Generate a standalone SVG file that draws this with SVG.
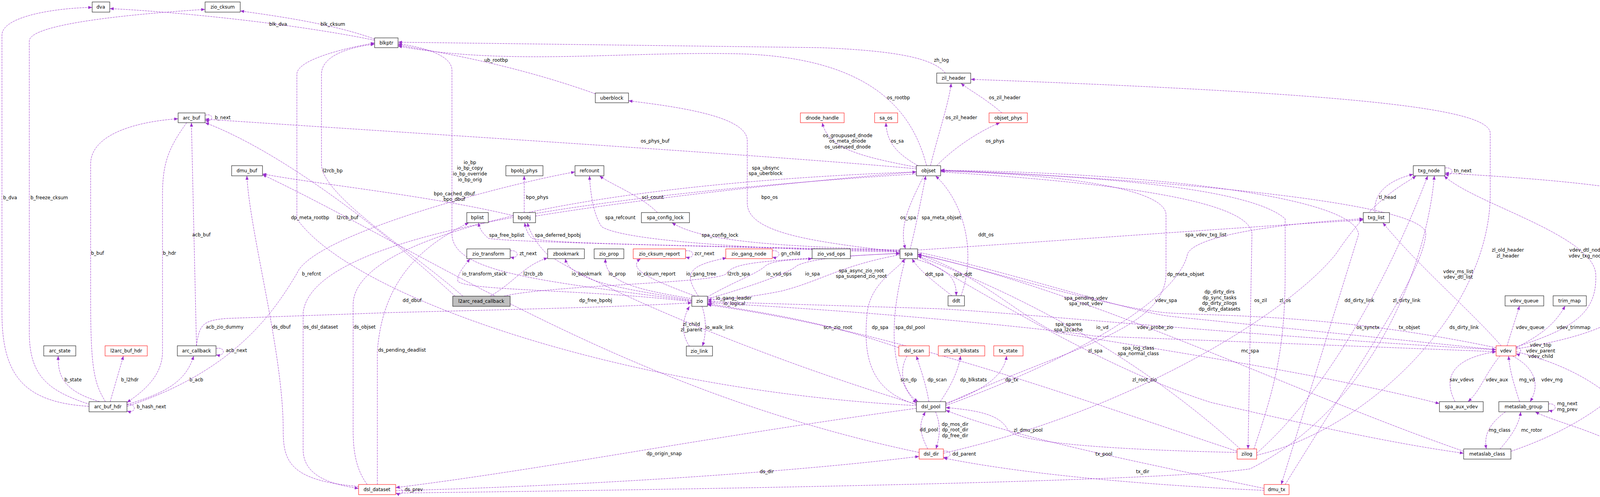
<svg xmlns="http://www.w3.org/2000/svg" width="4451" height="1272" viewBox="0 0 4451 1272">
<style>
.n rect{fill:#fff;stroke:#000;stroke-width:1}
.n.r rect{stroke:#FF0000}
.n.g rect{fill:#bfbfbf}
.n text{font-family:"DejaVu Sans",Verdana,sans-serif;font-size:12px;text-anchor:middle;fill:#000}
#edges path{fill:none;stroke:#9A32CD;stroke-width:1;stroke-dasharray:5,2;marker-end:url(#a)}
#edges text{font-family:"DejaVu Sans",Verdana,sans-serif;font-size:12px;fill:#000}
#edges text.c{text-anchor:middle}
</style>
<defs>
<marker id="a" markerUnits="userSpaceOnUse" markerWidth="11" markerHeight="8" refX="10" refY="4" orient="auto"><path d="M0,0 L10,4 L0,8 z" fill="#9A32CD"/></marker>
</defs>
<rect width="4451" height="1272" fill="#fff"/>
<g id="edges">
<path d="M228,1040 C60,1030 5,960 5,800 L5,90 C5,40 150,20 236,19"/><text x="8" y="510">b_dva</text>
<path d="M230,1035 C120,1000 75,960 75,850 L75,105 C75,60 350,35 525,24"/><text x="78" y="510">b_freeze_cksum</text>
<path d="M959,103 C750,60 450,30 281,22"/><text class="c" x="712" y="66">blk_dva</text>
<path d="M959,100 C850,60 700,40 615,28"/><text class="c" x="852" y="66">blk_cksum</text>
<path d="M270,1028 C240,980 232,940 232,760 L232,420 C232,340 360,310 456,304"/><text x="233" y="652">b_buf</text>
<path d="M478,314 C430,380 416,420 416,500 L416,900 C416,960 370,1000 325,1030"/><text x="417" y="652">b_hdr</text>
<path d="M525,295 C548,288 548,314 525,308"/><text x="550" y="305">b_next</text>
<path d="M503,885 L490,314"/><text x="492" y="605">acb_buf</text>
<path d="M255,1028 C160,1000 148,960 149,911"/><text x="165" y="976">b_state</text>
<path d="M282,1028 L316,911"/><text x="310" y="976">b_l2hdr</text>
<path d="M325,1035 C450,1000 480,960 496,911"/><text x="485" y="976">b_acb</text>
<path d="M553,892 C578,886 578,914 553,908"/><text x="578" y="901">acb_next</text>
<path d="M325,1036 C350,1030 350,1060 325,1052"/><text x="350" y="1045">b_hash_next</text>
<path d="M503,885 C510,830 520,820 580,815 L1000,800 C1400,790 1600,785 1771,775"/><text x="527" y="841">acb_zio_dummy</text>
<path d="M1185,758 C1050,640 823,500 823,420 L823,190 C823,140 900,120 959,113"/><text x="826" y="441">l2rcb_bp</text>
<path d="M1165,758 C950,560 700,380 525,314"/><text x="862" y="561">l2rcb_buf</text>
<path d="M2346,1038 C1600,1000 900,760 760,560 L760,190 C760,150 900,120 959,110"/><text x="745" y="561">dp_meta_rootbp</text>
<path d="M918,1245 C740,1230 725,1180 725,1100 C725,900 640,600 632,450"/><text x="697" y="841">ds_dbuf</text>
<path d="M940,1240 C910,1200 904,1150 904,1100 L904,780 C904,600 1500,470 2346,440"/><text x="905" y="841">ds_objset</text>
<path d="M2346,445 C1500,500 800,600 776,800 L776,1150 C776,1220 850,1240 918,1250"/><text x="777" y="841">os_dsl_dataset</text>
<path d="M1013,1248 C1036,1246 1036,1272 1013,1262"/><text x="1036" y="1257">ds_prev</text>
<path d="M966,1240 L966,900 C980,700 1100,620 1200,570"/><text x="968" y="900">ds_pending_deadlist</text>
<path d="M2353,1158 C1600,1000 1100,650 672,447"/><text class="c" x="1055" y="773">dd_dbuf</text>
<path d="M325,1040 C600,950 700,800 760,700 C800,600 1300,470 1472,440"/><text x="773" y="705">b_refcnt</text>
<path d="M1314,552 C1100,500 800,470 672,445"/><text class="c" x="1163" y="500">bpo_cached_dbuf</text><text class="c" x="1163" y="514">bpo_dbuf</text>
<path d="M1771,770 C1400,720 1160,700 1157,600 L1157,180 C1157,140 1080,120 1019,112"/><text class="c" x="1203" y="420">io_bp</text><text class="c" x="1203" y="434">io_bp_copy</text><text class="c" x="1203" y="449">io_bp_override</text><text class="c" x="1203" y="464">io_bp_orig</text>
<path d="M1524,240 C1300,160 1100,130 1019,115"/><text class="c" x="1270" y="158">ub_rootbp</text>
<path d="M2372,424 C2340,300 2250,150 1900,138 C1600,130 1300,170 1019,118"/><text class="c" x="2300" y="254">os_rootbp</text>
<path d="M2420,187 C2390,150 2300,130 2100,122 L1019,108"/><text class="c" x="2410" y="158">zh_log</text>
<path d="M2346,432 C2000,400 1200,350 525,305"/><text class="c" x="1677" y="365">os_phys_buf</text>
<path d="M2346,428 C2200,400 2120,380 2105,314"/><text class="c" x="2170" y="351">os_groupused_dnode</text><text class="c" x="2170" y="365">os_meta_dnode</text><text class="c" x="2170" y="380">os_userused_dnode</text>
<path d="M2350,424 C2290,390 2270,360 2268,314"/><text class="c" x="2297" y="365">os_sa</text>
<path d="M2382,424 C2400,350 2430,260 2435,213"/><text class="c" x="2461" y="305">os_zil_header</text>
<path d="M2565,289 C2520,250 2480,230 2460,213"/><text class="c" x="2572" y="254">os_zil_header</text>
<path d="M2398,424 C2450,370 2520,330 2560,314"/><text class="c" x="2547" y="365">os_phys</text>
<path d="M2304,645 C2100,620 1913,600 1913,520 L1913,360 C1913,300 1750,275 1609,258"/><text class="c" x="1960" y="434">spa_ubsync</text><text class="c" x="1960" y="448">spa_uberblock</text>
<path d="M1342,544 L1342,450"/><text class="c" x="1375" y="509">bpo_phys</text>
<path d="M1371,553 C1700,500 2100,460 2346,440"/><text class="c" x="1970" y="509">bpo_os</text>
<path d="M1683,544 C1640,500 1560,470 1535,450"/><text class="c" x="1671" y="509">scl_count</text>
<path d="M2304,645 C2000,640 1600,620 1540,580 C1520,550 1512,500 1509,450"/><text class="c" x="1588" y="561">spa_refcount</text>
<path d="M2304,643 C1800,630 1300,620 1250,610 C1240,600 1228,590 1225,570"/><text class="c" x="1297" y="606">spa_free_bplist</text>
<path d="M2304,641 C1800,628 1400,625 1362,610 C1350,600 1345,580 1343,570"/><text class="c" x="1428" y="606">spa_deferred_bpobj</text>
<path d="M2304,640 C2000,630 1800,620 1720,570"/><text class="c" x="1843" y="606">spa_config_lock</text>
<path d="M2365,450 C2330,520 2300,580 2318,637"/><text class="c" x="2325" y="561">os_spa</text>
<path d="M2330,637 C2345,580 2360,500 2370,450"/><text class="c" x="2410" y="561">spa_meta_objset</text>
<path d="M2460,757 C2500,650 2470,520 2395,450"/><text class="c" x="2524" y="605">ddt_os</text>
<path d="M2349,640 C2800,610 3200,580 3490,563"/><text class="c" x="3087" y="605">spa_vdev_txg_list</text>
<path d="M1306,642 C1330,638 1330,664 1306,658"/><text x="1330" y="653">zt_next</text>
<path d="M1771,772 C1500,740 1200,745 1172,720 C1170,700 1190,680 1203,662"/><text class="c" x="1240" y="705">io_transform_stack</text>
<path d="M1255,758 C1320,720 1340,680 1402,660"/><text class="c" x="1365" y="705">l2rcb_zb</text>
<path d="M1771,768 C1600,740 1460,720 1447,662"/><text class="c" x="1502" y="705">io_bookmark</text>
<path d="M1775,765 C1620,740 1548,720 1550,662"/><text class="c" x="1580" y="705">io_prop</text>
<path d="M1780,758 C1680,720 1600,690 1640,662"/><text class="c" x="1680" y="705">io_cksum_report</text>
<path d="M1755,642 C1780,638 1780,664 1755,658"/><text x="1778" y="653">zcr_next</text>
<path d="M1788,758 C1750,700 1760,680 1860,660"/><text class="c" x="1795" y="705">io_gang_tree</text>
<path d="M1977,642 C2000,638 2000,664 1977,658"/><text x="1999" y="653">gn_child</text>
<path d="M1290,758 C1400,730 1840,725 1860,700 C1880,670 1950,667 2304,648"/><text class="c" x="1891" y="705">l2rcb_spa</text>
<path d="M1811,760 C1880,720 1940,700 1960,680 C1980,665 2040,665 2079,662"/><text class="c" x="1994" y="705">io_vsd_ops</text>
<path d="M1811,765 C1900,740 2020,700 2040,680 C2080,660 2200,652 2304,649"/><text class="c" x="2080" y="705">io_spa</text>
<path d="M2304,652 C2150,680 2100,720 2000,745 C1900,765 1850,765 1811,768"/><text class="c" x="2205" y="697">spa_async_zio_root</text><text class="c" x="2205" y="711">spa_suspend_zio_root</text>
<path d="M1811,762 C1834,758 1834,782 1811,778"/><text x="1833" y="767">io_gang_leader</text><text x="1852" y="781">io_logical</text>
<path d="M1765,886 C1740,850 1750,810 1765,784"/><text class="c" x="1770" y="834">zl_child</text><text class="c" x="1770" y="848">zl_parent</text>
<path d="M1797,784 C1810,820 1807,860 1798,886"/><text x="1806" y="842">io_walk_link</text>
<path d="M2346,1035 C1900,900 1500,720 1400,650 C1370,620 1355,590 1350,570"/><text class="c" x="1525" y="773">dp_free_bpobj</text>
<path d="M2301,890 C2100,820 1950,800 1811,777"/><text class="c" x="2145" y="842">scn_zio_root</text>
<path d="M2346,1045 C1800,1120 1400,1200 1013,1248"/><text class="c" x="1700" y="1165">dp_origin_snap</text>
<path d="M1013,1256 C1600,1240 2100,1200 2353,1168"/><text class="c" x="1963" y="1211">ds_dir</text>
<path d="M2340,662 C2440,690 2448,720 2448,757"/><text class="c" x="2465" y="706">spa_ddt</text>
<path d="M2437,757 C2390,720 2350,690 2335,662"/><text class="c" x="2392" y="706">ddt_spa</text>
<path d="M2346,1035 C2220,1000 2210,900 2220,800 C2230,720 2300,690 2316,662"/><text class="c" x="2253" y="842">dp_spa</text>
<path d="M2318,662 C2280,800 2270,950 2346,1032"/><text class="c" x="2330" y="842">spa_dsl_pool</text>
<path d="M2322,911 C2300,950 2310,1000 2350,1028"/><text class="c" x="2326" y="976">scn_dp</text>
<path d="M2378,1028 C2370,980 2355,940 2346,911"/><text class="c" x="2399" y="976">dp_scan</text>
<path d="M2407,1028 C2440,980 2455,940 2459,911"/><text class="c" x="2492" y="976">dp_blkstats</text>
<path d="M2421,1032 C2520,1000 2570,960 2577,911"/><text class="c" x="2590" y="976">dp_tx</text>
<path d="M2375,1149 C2350,1100 2355,1080 2369,1054"/><text class="c" x="2378" y="1104">dd_pool</text>
<path d="M2395,1054 C2410,1090 2405,1120 2396,1149"/><text class="c" x="2445" y="1090">dp_mos_dir</text><text class="c" x="2445" y="1104">dp_root_dir</text><text class="c" x="2445" y="1119">dp_free_dir</text>
<path d="M2415,1155 C2438,1150 2438,1176 2415,1170"/><text x="2438" y="1166">dd_parent</text>
<path d="M3167,1158 C2800,1150 2600,1130 2580,1100 C2560,1060 2500,1050 2421,1043"/><text class="c" x="2632" y="1105">zl_dmu_pool</text>
<path d="M3236,1250 C2900,1180 2600,1120 2421,1050"/><text class="c" x="2826" y="1166">tx_pool</text>
<path d="M3236,1255 C2900,1240 2600,1210 2415,1172"/><text class="c" x="2925" y="1211">tx_dir</text>
<path d="M2349,645 C2600,700 2900,800 3000,810 L3830,895"/><text class="c" x="2780" y="767">spa_pending_vdev</text><text class="c" x="2780" y="781">spa_root_vdev</text>
<path d="M3830,890 C3400,800 3100,810 2980,800 C2800,780 2500,680 2349,652"/><text class="c" x="2985" y="773">vdev_spa</text>
<path d="M2421,1038 C2800,900 3020,750 3040,650 C3060,600 3300,570 3490,560"/><text class="c" x="3122" y="751">dp_dirty_dirs</text><text class="c" x="3122" y="766">dp_sync_tasks</text><text class="c" x="3122" y="780">dp_dirty_zilogs</text><text class="c" x="3122" y="795">dp_dirty_datasets</text>
<path d="M2421,1035 C2700,900 2985,850 2985,700 L2985,550 C2985,480 2700,445 2408,438"/><text class="c" x="3035" y="706">dp_meta_objset</text>
<path d="M2408,440 C2900,470 3205,520 3205,600 L3195,1149"/><text class="c" x="3227" y="773">os_zil</text>
<path d="M3210,1149 C3260,1000 3290,900 3290,700 L3290,560 C3200,480 2800,450 2408,437"/><text class="c" x="3290" y="773">zl_os</text>
<path d="M2349,650 C2500,700 2600,800 2700,850 C3000,900 3400,960 3685,1033"/><text class="c" x="2735" y="834">spa_spares</text><text class="c" x="2735" y="848">spa_l2cache</text>
<path d="M1811,775 C2300,800 2750,850 2800,860 L3830,900"/><text class="c" x="2822" y="842">io_vd</text>
<path d="M3830,895 C3200,860 2600,800 2400,790 L1811,772"/><text class="c" x="2957" y="842">vdev_probe_zio</text>
<path d="M3175,1149 C2900,900 2600,750 2349,655"/><text class="c" x="2804" y="902">zl_spa</text>
<path d="M2349,655 C2600,800 2850,950 3100,1030 C3400,1100 3600,1140 3747,1160"/><text class="c" x="2914" y="895">spa_log_class</text><text class="c" x="2914" y="909">spa_normal_class</text>
<path d="M3167,1155 C2700,1000 2300,850 1811,780"/><text class="c" x="2930" y="976">zl_root_zio</text>
<path d="M3747,1155 C3300,1000 2800,750 2349,650"/><text class="c" x="3200" y="902">mc_spa</text>
<path d="M2415,1160 C2900,1050 3300,800 3420,650 C3520,500 3600,470 3625,450"/><text class="c" x="3480" y="773">dd_dirty_link</text>
<path d="M3217,1160 C3400,1000 3560,700 3655,450"/><text class="c" x="3601" y="773">zl_dirty_link</text>
<path d="M2408,436 C2900,440 3470,500 3478,600 L3280,1240"/><text class="c" x="3502" y="842">os_synctx</text>
<path d="M3290,1240 C3500,900 3640,700 3650,600 C3660,520 3000,460 2408,435"/><text class="c" x="3608" y="842">tx_objset</text>
<path d="M1013,1262 C2000,1250 3000,1230 3200,1200 C3500,1050 3650,700 3672,450"/><text class="c" x="3748" y="842">ds_dirty_link</text>
<path d="M3217,1165 C3500,1100 3812,800 3815,500 L3815,340 C3810,280 3500,240 2485,203"/><text class="c" x="3860" y="644">zl_old_header</text><text class="c" x="3860" y="659">zl_header</text>
<path d="M3843,885 C3770,800 3630,680 3540,570"/><text class="c" x="3733" y="699">vdev_ms_list</text><text class="c" x="3733" y="713">vdev_dtl_list</text>
<path d="M3881,888 C4030,840 4090,800 4085,700 C4075,600 3770,520 3697,450"/><text class="c" x="4061" y="644">vdev_dtl_node</text><text class="c" x="4061" y="659">vdev_txg_node</text>
<path d="M4184,757 C4190,720 4200,690 4212,662"/><text class="c" x="4225" y="706">sm_ops</text>
<path d="M3858,885 L3890,783"/><text class="c" x="3917" y="842">vdev_queue</text>
<path d="M3881,890 C3960,850 3985,820 4007,783"/><text class="c" x="4028" y="842">vdev_trimmap</text>
<path d="M3881,893 C4080,860 4150,820 4167,783"/><text class="c" x="4169" y="842">vdev_dtl</text>
<path d="M3881,890 C3897,884 3897,912 3881,905"/><text class="c" x="3944" y="887">vdev_top</text><text class="c" x="3944" y="902">vdev_parent</text><text class="c" x="3944" y="916">vdev_child</text>
<path d="M3725,1028 C3700,980 3700,920 3830,900"/><text class="c" x="3742" y="976">sav_vdevs</text>
<path d="M3840,911 C3800,960 3790,1000 3758,1028"/><text class="c" x="3832" y="976">vdev_aux</text>
<path d="M3890,1028 C3875,980 3865,950 3862,911"/><text class="c" x="3909" y="976">mg_vd</text>
<path d="M3872,911 C3945,950 3935,1000 3917,1028"/><text class="c" x="3973" y="976">vdev_mg</text>
<path d="M3964,1034 C3987,1030 3987,1056 3964,1050"/><text x="3986" y="1037">mg_next</text><text x="3986" y="1052">mg_prev</text>
<path d="M3854,1054 C3805,1090 3800,1120 3805,1149"/><text class="c" x="3839" y="1105">mg_class</text>
<path d="M3840,1149 C3875,1110 3890,1080 3893,1054"/><text class="c" x="3921" y="1105">mc_rotor</text>
<path d="M4176,1155 C4080,1100 3980,1080 3930,1054"/><text class="c" x="4133" y="1105">ms_group</text>
<path d="M3881,900 C4080,950 4190,1050 4205,1149"/><text class="c" x="4172" y="1045">vdev_ms</text>
<path d="M4215,1149 L4214,900 C4205,850 4195,800 4190,783"/><text class="c" x="4262" y="956">ms_map</text><text class="c" x="4262" y="970">ms_allocmap</text><text class="c" x="4262" y="985">ms_defermap</text><text class="c" x="4262" y="1000">ms_freemap</text>
<path d="M3868,1155 C4030,1100 4200,1000 4240,850 C4255,750 4250,700 4240,662"/><text class="c" x="4234" y="902">mc_ops</text>
<path d="M4258,1155 C4340,1100 4358,1000 4358,850 L4358,560 C4340,480 3900,455 3699,443"/><text class="c" x="4401" y="773">ms_txg_node</text>
<path d="M3699,430 C3723,426 3723,452 3699,446"/><text x="3722" y="441">tn_next</text>
<path d="M3520,544 C3515,490 3560,460 3618,446"/><text class="c" x="3552" y="509">tl_head</text>
</g>
<g id="dva" class="n"><rect x="236" y="5" width="45" height="26"/><text x="258" y="22">dva</text></g>
<g id="zio_cksum" class="n"><rect x="525" y="5" width="90" height="26"/><text x="570" y="22">zio_cksum</text></g>
<g id="blkptr" class="n"><rect x="959" y="97" width="60" height="25"/><text x="989" y="114">blkptr</text></g>
<g id="arc_buf" class="n"><rect x="456" y="289" width="69" height="25"/><text x="490" y="306">arc_buf</text></g>
<g id="dmu_buf" class="n"><rect x="593" y="424" width="79" height="26"/><text x="632" y="441">dmu_buf</text></g>
<g id="arc_state" class="n"><rect x="112" y="885" width="82" height="26"/><text x="153" y="902">arc_state</text></g>
<g id="l2arc_buf_hdr" class="n r"><rect x="269" y="885" width="108" height="26"/><text x="323" y="902">l2arc_buf_hdr</text></g>
<g id="arc_callback" class="n"><rect x="454" y="885" width="99" height="26"/><text x="503" y="902">arc_callback</text></g>
<g id="arc_buf_hdr" class="n"><rect x="228" y="1028" width="97" height="26"/><text x="276" y="1045">arc_buf_hdr</text></g>
<g id="dsl_dataset" class="n r"><rect x="918" y="1240" width="95" height="26"/><text x="965" y="1257">dsl_dataset</text></g>
<g id="uberblock" class="n"><rect x="1524" y="238" width="85" height="25"/><text x="1566" y="255">uberblock</text></g>
<g id="dnode_handle" class="n r"><rect x="2049" y="289" width="112" height="25"/><text x="2105" y="306">dnode_handle</text></g>
<g id="bpobj_phys" class="n"><rect x="1295" y="424" width="95" height="26"/><text x="1342" y="441">bpobj_phys</text></g>
<g id="refcount" class="n"><rect x="1472" y="424" width="74" height="26"/><text x="1509" y="441">refcount</text></g>
<g id="bplist" class="n"><rect x="1195" y="544" width="55" height="26"/><text x="1222" y="561">bplist</text></g>
<g id="bpobj" class="n"><rect x="1314" y="544" width="57" height="26"/><text x="1342" y="561">bpobj</text></g>
<g id="spa_config_lock" class="n"><rect x="1642" y="544" width="123" height="26"/><text x="1703" y="561">spa_config_lock</text></g>
<g id="zio_transform" class="n"><rect x="1195" y="637" width="111" height="25"/><text x="1250" y="654">zio_transform</text></g>
<g id="zbookmark" class="n"><rect x="1402" y="637" width="94" height="25"/><text x="1449" y="654">zbookmark</text></g>
<g id="zio_prop" class="n"><rect x="1521" y="637" width="76" height="25"/><text x="1559" y="654">zio_prop</text></g>
<g id="zio_cksum_report" class="n r"><rect x="1621" y="637" width="134" height="25"/><text x="1688" y="654">zio_cksum_report</text></g>
<g id="zio_gang_node" class="n r"><rect x="1858" y="637" width="119" height="25"/><text x="1917" y="654">zio_gang_node</text></g>
<g id="zio_vsd_ops" class="n"><rect x="2079" y="637" width="98" height="25"/><text x="2128" y="654">zio_vsd_ops</text></g>
<g id="l2arc_read_callback" class="n g"><rect x="1159" y="758" width="147" height="26"/><text x="1232" y="775">l2arc_read_callback</text></g>
<g id="zio" class="n"><rect x="1771" y="758" width="40" height="26"/><text x="1791" y="775">zio</text></g>
<g id="zio_link" class="n"><rect x="1757" y="886" width="67" height="25"/><text x="1790" y="903">zio_link</text></g>
<g id="zil_header" class="n"><rect x="2398" y="187" width="87" height="26"/><text x="2441" y="204">zil_header</text></g>
<g id="sa_os" class="n r"><rect x="2239" y="289" width="59" height="25"/><text x="2268" y="306">sa_os</text></g>
<g id="objset_phys" class="n r"><rect x="2532" y="289" width="98" height="25"/><text x="2581" y="306">objset_phys</text></g>
<g id="objset" class="n"><rect x="2346" y="424" width="62" height="26"/><text x="2377" y="441">objset</text></g>
<g id="spa" class="n"><rect x="2304" y="637" width="45" height="25"/><text x="2326" y="654">spa</text></g>
<g id="ddt" class="n"><rect x="2427" y="757" width="42" height="26"/><text x="2448" y="774">ddt</text></g>
<g id="dsl_scan" class="n r"><rect x="2301" y="885" width="78" height="26"/><text x="2340" y="902">dsl_scan</text></g>
<g id="zfs_all_blkstats" class="n r"><rect x="2402" y="885" width="119" height="26"/><text x="2461" y="902">zfs_all_blkstats</text></g>
<g id="tx_state" class="n r"><rect x="2544" y="885" width="75" height="26"/><text x="2581" y="902">tx_state</text></g>
<g id="dsl_pool" class="n"><rect x="2346" y="1028" width="75" height="26"/><text x="2383" y="1045">dsl_pool</text></g>
<g id="dsl_dir" class="n r"><rect x="2353" y="1149" width="62" height="26"/><text x="2384" y="1166">dsl_dir</text></g>
<g id="zilog" class="n r"><rect x="3167" y="1149" width="50" height="26"/><text x="3192" y="1166">zilog</text></g>
<g id="dmu_tx" class="n r"><rect x="3236" y="1240" width="64" height="26"/><text x="3268" y="1257">dmu_tx</text></g>
<g id="txg_node" class="n"><rect x="3618" y="424" width="81" height="26"/><text x="3658" y="441">txg_node</text></g>
<g id="txg_list" class="n"><rect x="3490" y="544" width="67" height="26"/><text x="3523" y="561">txg_list</text></g>
<g id="space_map_ops" class="n"><rect x="4165" y="637" width="126" height="25"/><text x="4228" y="654">space_map_ops</text></g>
<g id="vdev_queue" class="n"><rect x="3853" y="757" width="99" height="26"/><text x="3902" y="774">vdev_queue</text></g>
<g id="trim_map" class="n"><rect x="3976" y="757" width="85" height="26"/><text x="4018" y="774">trim_map</text></g>
<g id="space_map" class="n"><rect x="4136" y="757" width="96" height="26"/><text x="4184" y="774">space_map</text></g>
<g id="vdev" class="n r"><rect x="3830" y="885" width="51" height="26"/><text x="3855" y="902">vdev</text></g>
<g id="spa_aux_vdev" class="n"><rect x="3685" y="1028" width="112" height="26"/><text x="3741" y="1045">spa_aux_vdev</text></g>
<g id="metaslab_group" class="n"><rect x="3837" y="1028" width="127" height="26"/><text x="3900" y="1045">metaslab_group</text></g>
<g id="metaslab_class" class="n"><rect x="3747" y="1149" width="121" height="26"/><text x="3807" y="1166">metaslab_class</text></g>
<g id="metaslab" class="n r"><rect x="4176" y="1149" width="82" height="26"/><text x="4217" y="1166">metaslab</text></g>
</svg>
